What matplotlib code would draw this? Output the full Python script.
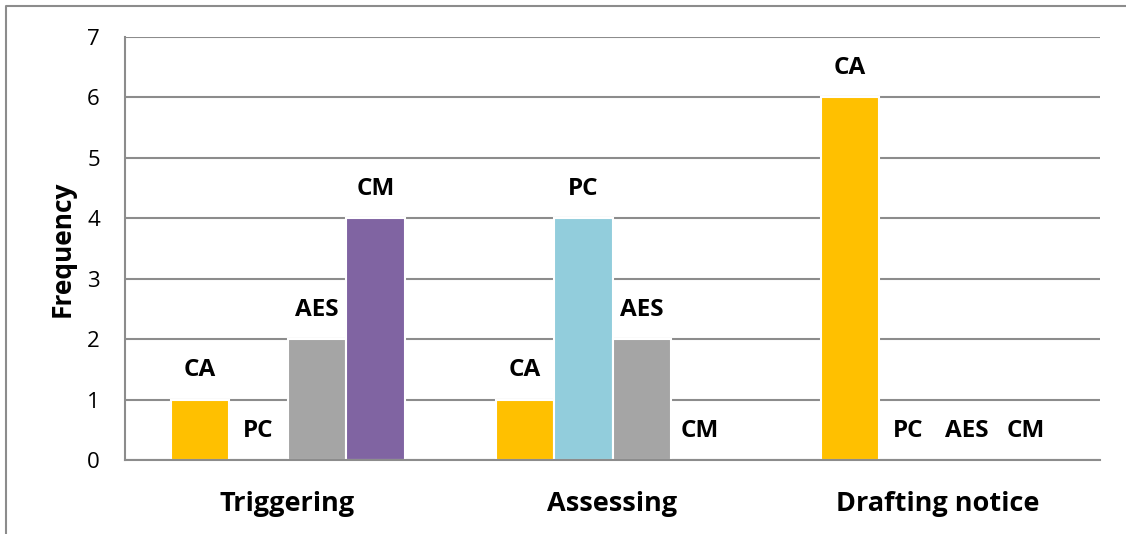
import matplotlib
matplotlib.use("Agg")
import matplotlib.pyplot as plt
import numpy as np
from matplotlib.lines import Line2D

STAGES = ["Triggering", "Assessing", "Drafting notice"]
SERIES = ["CA", "PC", "AES", "CM"]
CA = [1, 1, 6]
PC = [0, 4, 0]
AES = [2, 2, 0]
CM = [4, 0, 0]
COLORS = ["#FFC000", "#92CDDC", "#A5A5A5", "#8064A2"]

plt.rcParams["font.family"] = ["Open Sans", "DejaVu Sans"]

fig = plt.figure(figsize=(11.26, 5.34), dpi=100)
ax = fig.add_axes([125 / 1126, 1 - 460 / 534, 975 / 1126, 423 / 534])

x = np.arange(len(STAGES))
width = 0.18
values = [CA, PC, AES, CM]
for i, (name, vals, color) in enumerate(zip(SERIES, values, COLORS)):
    pos = x + (i - 1.5) * width
    bars = ax.bar(pos, vals, width, color=color, edgecolor="white", linewidth=1.5, zorder=2)
    for b, v in zip(bars, vals):
        ax.annotate(name, (b.get_x() + b.get_width() / 2, v), xytext=(0, 21),
                    textcoords="offset points", ha="center", va="center",
                    fontsize=17.5, fontweight="bold", zorder=4,
                    bbox=dict(boxstyle="square,pad=0.15", fc="white", ec="none"))

ax.set_xlim(-0.5, 2.5)
ax.set_ylim(0, 7)
ax.set_yticks(range(8))
ax.yaxis.grid(True, color="#8c8c8c", linewidth=1.5, zorder=0)
ax.set_axisbelow(True)
ax.set_xticks(x)
ax.set_xticklabels(STAGES, fontsize=19.5, fontweight="bold")
ax.tick_params(axis="x", length=0, pad=22)
ax.tick_params(axis="y", length=0, pad=18, labelsize=16)
for side in ["top", "right"]:
    ax.spines[side].set_visible(False)
for side in ["left", "bottom"]:
    ax.spines[side].set_color("#8c8c8c")
    ax.spines[side].set_linewidth(1.5)
ax.set_ylabel("Frequency", fontsize=19, fontweight="bold")
ax.yaxis.set_label_coords(-(125 - 76) / 975, 0.5)

# outer frame (top and left edges)
fig.add_artist(Line2D([6 / 1126, 6 / 1126, 1.0], [0.0, 1 - 6 / 534, 1 - 6 / 534],
                      transform=fig.transFigure, color="#8c8c8c", linewidth=1.5))

fig.savefig("out.png", dpi=100)
